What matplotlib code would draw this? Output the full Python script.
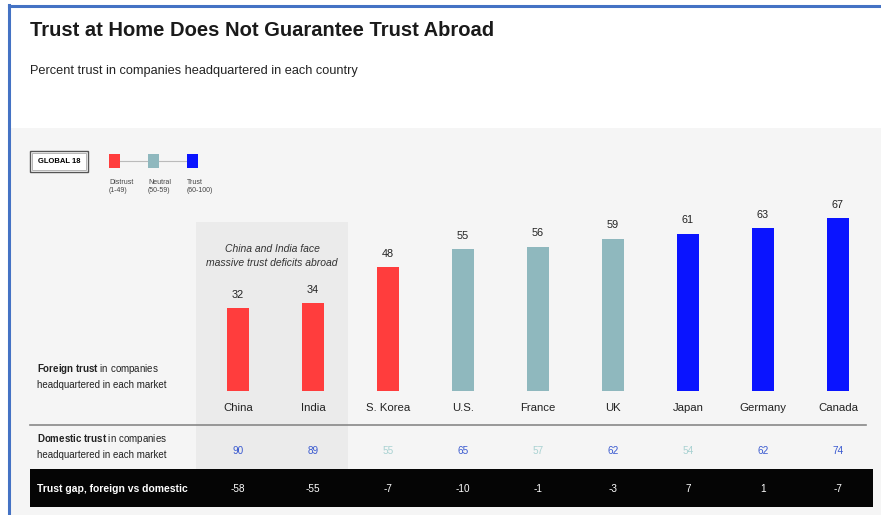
import matplotlib
matplotlib.use("Agg")
import matplotlib.pyplot as plt
from matplotlib.patches import Rectangle
from matplotlib.lines import Line2D

# ---------------- data ----------------
countries = ["China", "India", "S. Korea", "U.S.", "France", "UK", "Japan", "Germany", "Canada"]
foreign_trust = [32, 34, 48, 55, 56, 59, 61, 63, 67]
domestic_trust = [90, 89, 55, 65, 57, 62, 54, 62, 74]
trust_gap = [-58, -55, -7, -10, -1, -3, 7, 1, -7]
legend_labels = ["Distrust\n(1-49)", "Neutral\n(50-59)", "Trust\n(60-100)"]
global_label = "GLOBAL 18"

RED = "#ff3d3d"
NEU = "#8fb8be"
BLUE = "#0a14ff"
DOM_BLUE = "#3a5ad0"
DOM_NEU = "#a9d2d2"

def bar_color(v):
    if v < 50:
        return RED
    if v < 60:
        return NEU
    return BLUE

def dom_color(v):
    if v < 50:
        return RED
    if v < 60:
        return DOM_NEU
    return DOM_BLUE

FONT = ["Liberation Sans", "DejaVu Sans"]
plt.rcParams["font.family"] = FONT
plt.rcParams["mathtext.fontset"] = "custom"
plt.rcParams["mathtext.rm"] = "Liberation Sans"
plt.rcParams["mathtext.bf"] = "Liberation Sans:bold"
plt.rcParams["mathtext.it"] = "Liberation Sans:italic"

W, H = 881, 515
fig = plt.figure(figsize=(W / 100, H / 100), dpi=100)
fig.patch.set_facecolor("white")

# background / annotation axes in pixel coordinates
bg = fig.add_axes([0, 0, 1, 1])
bg.set_xlim(0, W)
bg.set_ylim(H, 0)
bg.axis("off")

# gray panel
bg.add_patch(Rectangle((10, 128), W - 10, H - 128, facecolor="#f5f5f5", edgecolor="none", zorder=0))
# highlight for China / India
bg.add_patch(Rectangle((196, 222), 152, 247, facecolor="#ebebeb", edgecolor="none", zorder=1))
# blue frame
bg.add_line(Line2D([9, W], [6, 6], color="#4472c4", lw=2.2, zorder=5))
bg.add_line(Line2D([9, 9], [5, H], color="#4472c4", lw=2.2, zorder=5))

# title and subtitle
bg.text(30, 30, "Trust at Home Does Not Guarantee Trust Abroad", fontsize=14.5, fontweight="bold",
        color="#1a1a1a", va="center", ha="left")
bg.text(30, 71, "Percent trust in companies headquartered in each country", fontsize=9.2,
        color="#222222", va="center", ha="left")

# legend
bg.add_patch(Rectangle((30, 151), 58, 21, facecolor="white", edgecolor="#555555", lw=1, zorder=3))
bg.add_patch(Rectangle((32, 153), 54, 17, facecolor="none", edgecolor="#999999", lw=0.5, zorder=3))
bg.text(59, 161.5, global_label, fontsize=5.5, fontweight="bold", ha="center", va="center", zorder=4)
leg_x = [109, 148, 187]
leg_cols = [RED, NEU, BLUE]
bg.add_line(Line2D([115, 192], [161, 161], color="#bbbbbb", lw=0.8, zorder=2))
for lx, lc, ll in zip(leg_x, leg_cols, legend_labels):
    bg.add_patch(Rectangle((lx, 154), 11, 14, facecolor=lc, edgecolor="none", zorder=3))
    bg.text(lx, 179, ll, fontsize=5, color="#444444", ha="left", va="top", linespacing=1.3)

# annotation
bg.text(272, 256, "China and India face\nmassive trust deficits abroad", fontsize=7.5, style="italic",
        color="#333333", ha="center", va="center", linespacing=1.5, zorder=4)

# row labels
bg.text(37, 376, "$\\mathbf{Foreign\\ trust}$ in companies\nheadquartered in each market", fontsize=7,
        color="#222222", ha="left", va="center", linespacing=1.5, zorder=4)
bg.text(37, 446, "$\\mathbf{Domestic\\ trust}$ in companies\nheadquartered in each market", fontsize=7,
        color="#222222", ha="left", va="center", linespacing=1.5, zorder=4)
# divider
bg.add_line(Line2D([30, 866], [425, 425], color="#888888", lw=1.2, zorder=3))
# black band
bg.add_patch(Rectangle((30, 469), 843, 38, facecolor="#050505", edgecolor="none", zorder=3))
bg.text(37, 489, "Trust gap, foreign vs domestic", fontsize=7.5, fontweight="bold",
        color="white", ha="left", va="center", zorder=4)

# bar axes: centers at 238 + 75*i, bottom at y=391, 2.58 px per unit
x0_px, x1_px = 200.5, 875.5
y_bottom, y_top = 391, 200
ax = fig.add_axes([x0_px / W, 1 - y_bottom / H, (x1_px - x0_px) / W, (y_bottom - y_top) / H])
ax.patch.set_alpha(0)
n = len(countries)
ax.set_xlim(-0.5, n - 0.5)
ax.set_ylim(0, (y_bottom - y_top) / 2.58)
ax.axis("off")
xs = list(range(n))
ax.bar(xs, foreign_trust, width=0.29, color=[bar_color(v) for v in foreign_trust], zorder=3)
for i, v in enumerate(foreign_trust):
    ax.annotate(str(v), (i, v), xytext=(0, 6), textcoords="offset points", ha="center",
                va="bottom", fontsize=7.8, color="#222222")
    ax.annotate(countries[i], (i, 0), xytext=(0, -12), textcoords="offset points", ha="center",
                va="center", fontsize=8.2, color="#222222")
    ax.annotate(str(domestic_trust[i]), (i, 0), xytext=(0, -43), textcoords="offset points",
                ha="center", va="center", fontsize=7.2, color=dom_color(domestic_trust[i]),
                annotation_clip=False)
    ax.annotate(str(trust_gap[i]), (i, 0), xytext=(0, -70.5), textcoords="offset points",
                ha="center", va="center", fontsize=7.2, color="white", annotation_clip=False)

fig.savefig("out.png", dpi=100)
